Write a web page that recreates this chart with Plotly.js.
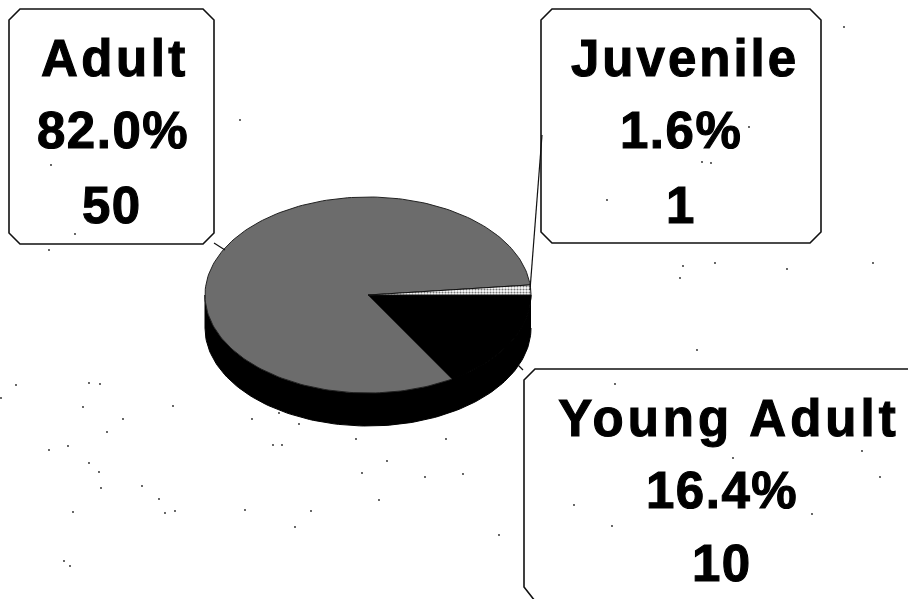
<!DOCTYPE html>
<html><head><meta charset="utf-8">
<script src="https://cdn.plot.ly/plotly-3.0.1.min.js"></script>
<style>
html,body{margin:0;padding:0;background:#fff}
.annotation-text{letter-spacing:3.5px;stroke:#000;stroke-width:1.1px}
g.annotation[data-index="3"] text{letter-spacing:3px}
g.annotation[data-index="6"] text{letter-spacing:4px}
g.annotation[data-index="1"] text,g.annotation[data-index="2"] text,
g.annotation[data-index="4"] text,g.annotation[data-index="5"] text,
g.annotation[data-index="7"] text,g.annotation[data-index="8"] text{letter-spacing:1.5px}
</style></head><body><div id="chart" style="width:908px;height:599px"></div>
<script>
// Data, in the clockwise drawing order starting from the pie's 3 o'clock
const categories = ["Young Adult", "Adult", "Juvenile"];
const counts = [10, 50, 1];
// Scan specks (page pixels)
const speckX = [16,89,100,1,83,173,123,107,68,49,89,99,101,142,159,73,165,175,245,252,279,299,273,282,356,446,387,362,425,463,379,311,295,64,70,499,240,75,49,51,844,873,787,680,683,715,607,749,702,711,574,612,880,812,615,697,733,862];
const speckY = [385,383,384,398,407,406,419,432,446,450,463,472,488,486,499,512,513,511,510,419,413,424,445,445,439,439,461,473,477,474,500,511,527,561,566,535,120,234,250,165,27,263,269,278,266,263,200,127,162,163,505,526,477,514,384,350,458,451];

// Pie geometry (axis units = page pixels)
const cx = 368, cy = 295, rx = 163, ry = 98, depth = 33;
const total = counts.reduce((a,b)=>a+b,0);
const rad = d => d*Math.PI/180;
function arc(a0,a1,dy){const xs=[],ys=[];const n=Math.max(2,Math.ceil(Math.abs(a1-a0)/1.5));
  for(let i=0;i<=n;i++){const t=rad(a0+(a1-a0)*i/n);xs.push(cx+rx*Math.cos(t));ys.push(cy+dy+ry*Math.sin(t));}
  return [xs,ys];}
const styles = {
  "Young Adult":{fillcolor:"#000000",line:{color:"#000",width:1}},
  "Adult":{fillcolor:"#747474",fillpattern:{shape:".",bgcolor:"#9a9a9a",fgcolor:"#303030",size:2,solidity:0.5},line:{color:"#222",width:1}},
  "Juvenile":{fillcolor:"#d0d0d0",fillpattern:{shape:".",bgcolor:"#ffffff",fgcolor:"#777777",size:3,solidity:0.4},line:{color:"#111",width:1}}
};
const traces = [];
// side wall
const upperEdge = arc(0,180,0), lowerEdge = arc(180,0,depth);
traces.push({type:"scatter",mode:"lines",x:upperEdge[0].concat(lowerEdge[0]),y:upperEdge[1].concat(lowerEdge[1]),fill:"toself",fillcolor:"#000",line:{color:"#000",width:1},hoverinfo:"skip",showlegend:false});
let ang = 0;
categories.forEach((c,i)=>{
  const sweep = counts[i]/total*360;
  const a = arc(ang,ang+sweep,0);
  traces.push(Object.assign({type:"scatter",mode:"lines",name:c,x:[cx].concat(a[0],[cx]),y:[cy].concat(a[1],[cy]),fill:"toself",hoverinfo:"name",showlegend:false},styles[c]));
  ang += sweep;
});
traces.push({type:"scatter",mode:"markers",x:speckX,y:speckY,marker:{size:1.8,color:"#222"},hoverinfo:"skip",showlegend:false});

// Labels
const pct = v => (v/total*100).toFixed(1)+"%";
const labelPlace = {"Adult":[[115,113,112],[58,130,205]],"Juvenile":[[685,681,681],[58,130,205]],"Young Adult":[[729,722,722],[418,490,563]]};
const annotations = [];
["Adult","Juvenile","Young Adult"].forEach(c=>{
  const v = counts[categories.indexOf(c)], [xs,ys] = labelPlace[c];
  [c,pct(v),String(v)].forEach((t,j)=>annotations.push({xref:"x",yref:"y",x:xs[j],y:ys[j],text:t,showarrow:false,xanchor:"center",yanchor:"middle",
    font:{family:"'Liberation Sans',Arial,sans-serif",size:51,color:"#000",weight:700}}));
});
const box = "#111";
const ln = {color:box,width:1.6};
const shapes = [
 {type:"path",path:"M20,9 L203,9 L214,20 L214,233 L203,244 L20,244 L9,233 L9,20 Z",line:ln},
 {type:"path",path:"M552,9 L810,9 L821,20 L821,232 L810,243 L552,243 L541,232 L541,20 Z",line:ln},
 {type:"path",path:"M930,369 L535,369 L524,380 L524,587 L535,601 L930,601",line:ln},
 {type:"line",x0:214,y0:243,x1:225,y1:250,line:{color:box,width:1.2}},
 {type:"line",x0:542,y0:135,x1:530,y1:290,line:{color:box,width:1.2}},
 {type:"line",x0:518,y0:365,x1:523,y1:370,line:{color:box,width:1.2}}
];
Plotly.newPlot("chart",traces,{
  width:908,height:599,margin:{l:0,r:0,t:0,b:0},paper_bgcolor:"#fff",plot_bgcolor:"#fff",showlegend:false,
  xaxis:{range:[0,908],visible:false,fixedrange:true},
  yaxis:{range:[599,0],visible:false,fixedrange:true},
  annotations:annotations,shapes:shapes
},{displayModeBar:false,staticPlot:true});
</script></body></html>
